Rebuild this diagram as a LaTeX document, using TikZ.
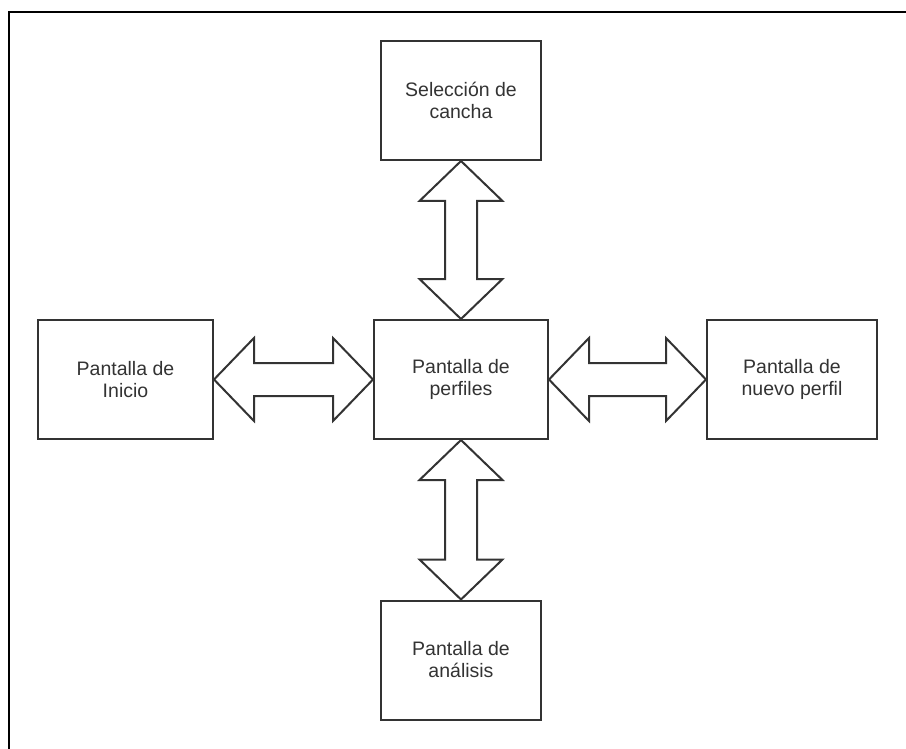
\documentclass[tikz,border=0pt]{standalone}
\usepackage{fontspec}
\setmainfont{Liberation Sans}
\usetikzlibrary{calc}
\definecolor{linegray}{HTML}{333333}
\definecolor{textgray}{HTML}{333333}
\tikzset{
  screenbox/.style={draw=linegray, line width=2pt, fill=white, minimum height=119pt,
    inner sep=0pt, align=center, text=textgray,
    font=\fontsize{19.5}{22}\selectfont},
  blockarrow/.style={draw=linegray, line width=2pt, fill=white, line join=miter},
  frameline/.style={draw=black, line width=1.8pt}
}
\begin{document}
\begin{tikzpicture}[x=1pt,y=-1pt]
\useasboundingbox (0,0) rectangle (906,749);
\fill[white] (0,0) rectangle (906,749);
\draw[frameline] (8.7,749) -- (8.7,12.2) -- (906,12.2);

\node[screenbox, minimum width=174pt] (mid) at (461,379.5) {Pantalla de\\perfiles};
\node[screenbox, minimum width=160pt] (top) at (461,100.5) {Selección de\\cancha};
\node[screenbox, minimum width=160pt] (bot) at (461,660) {Pantalla de\\análisis};
\node[screenbox, minimum width=175pt] (left) at (125.5,379.5) {Pantalla de\\Inicio};
\node[screenbox, minimum width=170pt] (right) at (792,379.5) {Pantalla de\\nuevo perfil};

% vertical double arrows
\foreach \a/\b in {top/mid, mid/bot}{
  \draw[blockarrow] (\a.south) -- ($(\a.south)+(41.5,40)$) -- ($(\a.south)+(16,40)$)
    -- ($(\b.north)+(16,-40)$) -- ($(\b.north)+(41.5,-40)$) -- (\b.north)
    -- ($(\b.north)+(-41.5,-40)$) -- ($(\b.north)+(-16,-40)$)
    -- ($(\a.south)+(-16,40)$) -- ($(\a.south)+(-41.5,40)$) -- cycle;
}
% horizontal double arrows
\foreach \a/\b in {left/mid, mid/right}{
  \draw[blockarrow] (\a.east) -- ($(\a.east)+(40,-41.5)$) -- ($(\a.east)+(40,-16.5)$)
    -- ($(\b.west)+(-40,-16.5)$) -- ($(\b.west)+(-40,-41.5)$) -- (\b.west)
    -- ($(\b.west)+(-40,41.5)$) -- ($(\b.west)+(-40,16.5)$)
    -- ($(\a.east)+(40,16.5)$) -- ($(\a.east)+(40,41.5)$) -- cycle;
}
\end{tikzpicture}
\end{document}
